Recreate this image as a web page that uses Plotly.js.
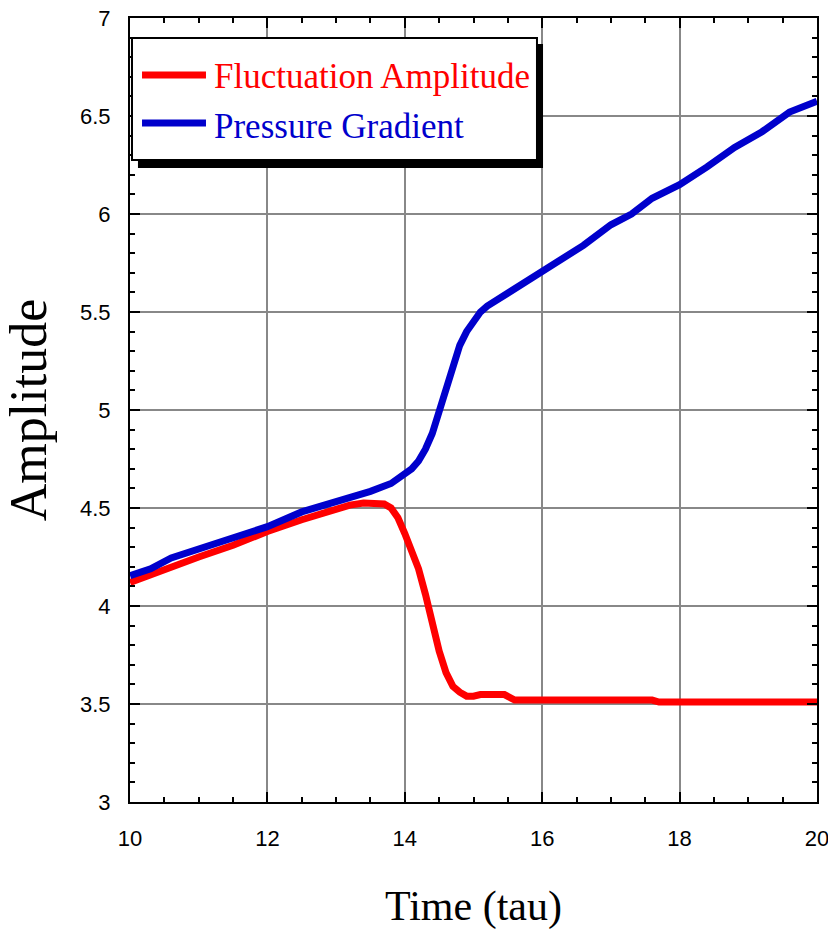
<!DOCTYPE html>
<html>
<head>
<meta charset="utf-8">
<script src="https://cdn.plot.ly/plotly-3.0.1.min.js"></script>
<style>
html,body{margin:0;padding:0;background:#fff;}
#chart{width:828px;height:938px;}
</style>
</head>
<body>
<div id="chart"></div>
<script>
// Fluctuation Amplitude (red)
const timeRed = [10.0,10.3,10.6,11.0,11.5,12.0,12.5,13.0,13.2,13.4,13.6,13.7,13.8,13.9,14.0,14.1,14.2,14.3,14.4,14.5,14.6,14.7,14.8,14.9,15.0,15.1,15.45,15.6,17.6,17.7,20.0];
const fluctuation = [4.12,4.16,4.20,4.25,4.31,4.38,4.44,4.49,4.515,4.525,4.525,4.52,4.50,4.45,4.37,4.29,4.19,4.06,3.91,3.77,3.66,3.59,3.56,3.54,3.54,3.548,3.548,3.52,3.52,3.51,3.51];

// Pressure Gradient (blue)
const timeBlue = [10.0,10.3,10.6,11.0,11.5,12.0,12.5,13.0,13.5,13.8,14.0,14.1,14.2,14.3,14.4,14.5,14.6,14.7,14.8,14.9,15.0,15.1,15.2,15.4,15.6,15.8,16.0,16.3,16.6,17.0,17.3,17.6,18.0,18.4,18.8,19.2,19.6,20.0];
const pressure = [4.155,4.19,4.245,4.29,4.34,4.405,4.48,4.53,4.585,4.625,4.67,4.70,4.74,4.80,4.88,5.00,5.12,5.23,5.33,5.40,5.45,5.50,5.53,5.575,5.625,5.67,5.715,5.775,5.84,5.945,6.0,6.08,6.15,6.24,6.34,6.42,6.52,6.575];

const seriesNames = ['Fluctuation Amplitude', 'Pressure Gradient'];
const seriesColors = ['#ff0000', '#0000cc'];

const xTicks = [10,12,14,16,18,20];
const yTicks = [3,3.5,4,4.5,5,5.5,6,6.5,7];

const traces = [
  {x: timeRed, y: fluctuation, type: 'scatter', mode: 'lines', name: seriesNames[0],
   showlegend: false, line: {color: seriesColors[0], width: 7}},
  {x: timeBlue, y: pressure, type: 'scatter', mode: 'lines', name: seriesNames[1],
   showlegend: false, line: {color: seriesColors[1], width: 7}}
];

const axisCommon = {
  showline: true, linecolor: '#000', linewidth: 2, mirror: 'ticks',
  ticks: 'inside', ticklen: 10, tickwidth: 2, tickcolor: '#000',
  showgrid: true, gridcolor: '#888888', gridwidth: 2,
  zeroline: false, ticklabeloverflow: 'allow',
  tickfont: {family: 'Liberation Sans, Arial, sans-serif', size: 22, color: '#000'}
};

const serif = 'Liberation Serif, Times New Roman, serif';

// legend box drawn in paper coordinates
const legendShapes = [
  {type: 'rect', xref: 'paper', yref: 'paper', layer: 'above',
   x0: 0.0116, x1: 0.6012, y0: 0.8087, y1: 0.9668, fillcolor: '#000', line: {width: 0}},
  {type: 'rect', xref: 'paper', yref: 'paper', layer: 'above',
   x0: 0.0029, x1: 0.5924, y0: 0.8189, y1: 0.9745, fillcolor: '#fff', line: {color: '#000', width: 2}},
  {type: 'line', xref: 'paper', yref: 'paper', layer: 'above',
   x0: 0.0175, x1: 0.1106, y0: 0.9273, y1: 0.9273, line: {color: seriesColors[0], width: 7}},
  {type: 'line', xref: 'paper', yref: 'paper', layer: 'above',
   x0: 0.0175, x1: 0.1106, y0: 0.8661, y1: 0.8661, line: {color: seriesColors[1], width: 7}}
];
const legendText = [
  {xref: 'paper', yref: 'paper', x: 0.1194, y: 0.9250, xanchor: 'left', yanchor: 'middle',
   text: seriesNames[0], showarrow: false, font: {family: serif, size: 35, color: seriesColors[0]}},
  {xref: 'paper', yref: 'paper', x: 0.1194, y: 0.8620, xanchor: 'left', yanchor: 'middle',
   text: seriesNames[1], showarrow: false, font: {family: serif, size: 35, color: seriesColors[1]}}
];

const layout = {
  width: 828, height: 938,
  margin: {l: 130, r: 11, t: 18, b: 136},
  paper_bgcolor: '#fff', plot_bgcolor: '#fff',
  showlegend: false,
  xaxis: Object.assign({}, axisCommon, {
    range: [10, 20], tickvals: xTicks, ticktext: xTicks.map(String),
    ticklabelstandoff: 16,
    minor: {dtick: 0.5, tick0: 10, ticks: 'inside', ticklen: 5, tickwidth: 2, tickcolor: '#000', showgrid: false},
    title: {text: 'Time (tau)', standoff: 40, font: {family: serif, size: 42, color: '#000'}}
  }),
  yaxis: Object.assign({}, axisCommon, {
    range: [3, 7], tickvals: yTicks, ticktext: yTicks.map(String),
    ticklabelstandoff: 13,
    minor: {dtick: 0.1, tick0: 3, ticks: 'inside', ticklen: 5, tickwidth: 2, tickcolor: '#000', showgrid: false},
    title: {text: 'Amplitude', standoff: 28, font: {family: serif, size: 52, color: '#000'}}
  }),
  shapes: legendShapes,
  annotations: legendText
};

Plotly.newPlot('chart', traces, layout, {displayModeBar: false, staticPlot: true});
</script>
</body>
</html>
